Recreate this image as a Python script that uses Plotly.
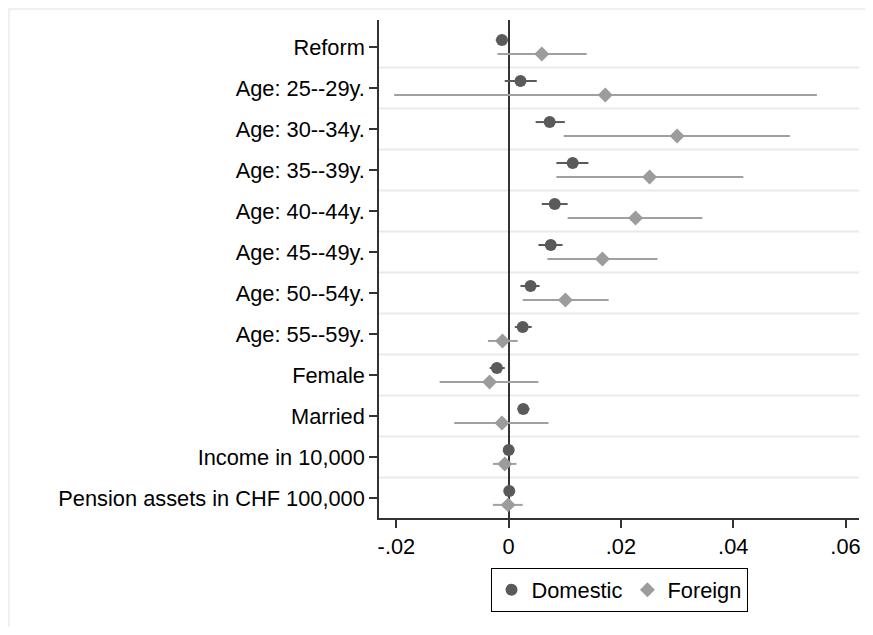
import plotly.graph_objects as go

categories = ["Reform", "Age: 25--29y.", "Age: 30--34y.", "Age: 35--39y.", "Age: 40--44y.",
              "Age: 45--49y.", "Age: 50--54y.", "Age: 55--59y.", "Female", "Married",
              "Income in 10,000", "Pension assets in CHF 100,000"]

dom_est = [-0.0012, 0.0021, 0.0073, 0.0114, 0.0082, 0.0075, 0.0039, 0.0025, -0.0021, 0.0026, 0.0000, 0.0001]
dom_lo  = [-0.0023, -0.0007, 0.0048, 0.0085, 0.0059, 0.0053, 0.0021, 0.0011, -0.0034, 0.0016, -0.0002, -0.0001]
dom_hi  = [-0.0002, 0.0050, 0.0100, 0.0142, 0.0105, 0.0096, 0.0055, 0.0041, -0.0007, 0.0037, 0.0002, 0.0003]

for_est = [0.0059, 0.0172, 0.0300, 0.0251, 0.0226, 0.0167, 0.0101, -0.0011, -0.0034, -0.0012, -0.0007, -0.0001]
for_lo  = [-0.0020, -0.0204, 0.0098, 0.0085, 0.0105, 0.0069, 0.0025, -0.0037, -0.0123, -0.0097, -0.0028, -0.0028]
for_hi  = [0.0139, 0.0549, 0.0501, 0.0418, 0.0345, 0.0265, 0.0178, 0.0016, 0.0053, 0.0071, 0.0014, 0.0025]

x_tickvals = [-0.02, 0, 0.02, 0.04, 0.06]
x_ticktext = ["-.02", "0", ".02", ".04", ".06"]

series_names = ["Domestic", "Foreign"]

pos = list(range(len(categories)))
off = 0.17

# page has an 8px body margin; size the figure to fit inside the viewport
W, H = 857, 619
ml, mr, mt, mb = 371, 6, 12, 109
pw = W - ml - mr
ph = H - mt - mb

fig = go.Figure()
fig.add_trace(go.Scatter(
    x=dom_est, y=[p - off for p in pos], mode="markers", name=series_names[0],
    marker=dict(symbol="circle", size=12, color="#5a5a5a"),
    error_x=dict(type="data", symmetric=False,
                 array=[h - e for h, e in zip(dom_hi, dom_est)],
                 arrayminus=[e - l for e, l in zip(dom_est, dom_lo)],
                 color="#5a5a5a", thickness=2, width=0),
))
fig.add_trace(go.Scatter(
    x=for_est, y=[p + off for p in pos], mode="markers", name=series_names[1],
    marker=dict(symbol="diamond", size=11.5, color="#9c9c9c"),
    error_x=dict(type="data", symmetric=False,
                 array=[h - e for h, e in zip(for_hi, for_est)],
                 arrayminus=[e - l for e, l in zip(for_est, for_lo)],
                 color="#a0a0a0", thickness=2, width=0),
))

shapes = []
for i in range(len(categories) - 1):
    shapes.append(dict(type="line", xref="paper", yref="y", x0=0, x1=1, y0=i + 0.5, y1=i + 0.5,
                       line=dict(color="#e9e9e9", width=2), layer="below"))
# outer graph-region border
shapes.append(dict(type="rect", xref="paper", yref="paper",
                   x0=(1 - ml) / pw, x1=(W + 10 - ml) / pw,
                   y0=-(H + 10 - mt - ph) / ph, y1=1 + (mt - 1) / ph,
                   line=dict(color="#ebebeb", width=1.5), layer="below"))

fig.update_layout(
    width=W, height=H,
    margin=dict(l=ml, r=mr, t=mt, b=mb, autoexpand=False),
    paper_bgcolor="white", plot_bgcolor="white",
    font=dict(family="Liberation Sans, Arial, sans-serif", size=21.8, color="black"),
    shapes=shapes,
    showlegend=True,
    legend=dict(orientation="h", x=0.5, xanchor="center", y=-50 / ph, yanchor="top",
                bordercolor="black", borderwidth=1, bgcolor="white",
                font=dict(size=21.8), itemwidth=30),
    xaxis=dict(range=[-0.0231, 0.0624], tickvals=x_tickvals, ticktext=x_ticktext,
               showgrid=False, zeroline=True, zerolinecolor="#333333", zerolinewidth=1.5,
               showline=True, linecolor="#333333", linewidth=1.5,
               ticks="outside", ticklen=8, tickcolor="#333333", tickwidth=1.5),
    yaxis=dict(range=[11.49, -0.66], tickvals=pos, ticktext=categories,
               showgrid=False, zeroline=False,
               showline=True, linecolor="#333333", linewidth=1.5,
               ticks="outside", ticklen=8, tickcolor="#333333", tickwidth=1.5),
)

fig.write_html("out.html")
